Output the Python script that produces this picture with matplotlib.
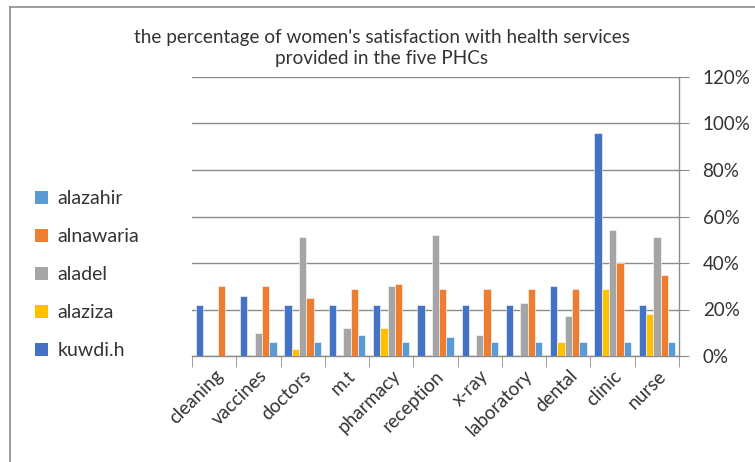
import numpy as np
import matplotlib
matplotlib.use("Agg")
import matplotlib.pyplot as plt
from matplotlib.lines import Line2D
from matplotlib.patches import Patch

plt.rcParams['font.family'] = ['Lato', 'DejaVu Sans']

services = ['cleaning', 'vaccines', 'doctors', 'm.t', 'pharmacy', 'reception',
            'x-ray', 'laboratory', 'dental', 'clinic', 'nurse']

# satisfaction (%) per PHC, one value per service
kuwdi_h = [22, 26, 22, 22, 22, 22, 22, 22, 30, 96, 22]
alaziza = [0, 0, 3, 0, 12, 0, 0, 0, 6, 29, 18]
aladel = [0, 10, 51, 12, 30, 52, 9, 23, 17, 54, 51]
alnawaria = [30, 30, 25, 29, 31, 29, 29, 29, 29, 40, 35]
alazahir = [0, 6, 6, 9, 6, 8, 6, 6, 6, 6, 6]

series = [('kuwdi.h', kuwdi_h, '#4472C4'),
          ('alaziza', alaziza, '#FFC000'),
          ('aladel', aladel, '#A5A5A5'),
          ('alnawaria', alnawaria, '#ED7D31'),
          ('alazahir', alazahir, '#5B9BD5')]

fig = plt.figure(figsize=(7.55, 4.62), dpi=100)
ax = fig.add_axes([192 / 755, 1 - 356 / 462, 487 / 755, 279 / 462])

x = np.arange(len(services))
w = 0.165
for i, (name, vals, col) in enumerate(series):
    ax.bar(x + (i - 2) * w, vals, width=w, color=col, edgecolor='white',
           linewidth=0.4, zorder=3)

ax.set_xlim(-0.5, len(services) - 0.5)
ax.set_ylim(0, 120)
ax.set_yticks(range(0, 121, 20))
ax.set_yticklabels([f'{v}%' for v in range(0, 121, 20)])
ax.yaxis.tick_right()
ax.grid(axis='y', color='#8c8c8c', linewidth=1.0, zorder=0)

ax.set_xticks(x)
ax.set_xticklabels(services, rotation=45, ha='right', rotation_mode='anchor')
ax.set_xticks(np.arange(-0.5, len(services)), minor=True)
ax.tick_params(axis='x', which='major', length=0, pad=8, labelsize=13.5,
               labelcolor='#333333')
ax.tick_params(axis='x', which='minor', length=8, color='#8c8c8c', direction='out')
ax.tick_params(axis='y', length=7, color='#8c8c8c', labelsize=13.5, pad=10,
               labelcolor='#333333')

for s in ['left', 'top']:
    ax.spines[s].set_visible(False)
for s in ['right', 'bottom']:
    ax.spines[s].set_color('#8c8c8c')
    ax.spines[s].set_linewidth(1.0)

fig.text(382 / 755, 1 - 48 / 462,
         "the percentage of women's satisfaction with health services\nprovided in the five PHCs",
         ha='center', va='center', fontsize=13.6, color='#333333', linespacing=1.25)

handles = [Patch(facecolor=col, label=name) for name, vals, col in series[::-1]]
fig.legend(handles=handles, loc='upper left', bbox_to_anchor=(17 / 755, 1 - 173 / 462),
           frameon=False, fontsize=14, handlelength=0.7, handleheight=0.7,
           handletextpad=0.5, labelspacing=1.08, labelcolor='#333333')

# outer chart border
fig.add_artist(Line2D([10 / 755, 10 / 755], [0, 1 - 7 / 462], color='#8c8c8c', lw=1.2))
fig.add_artist(Line2D([10 / 755, 1], [1 - 7 / 462, 1 - 7 / 462], color='#8c8c8c', lw=1.2))

fig.savefig('out.png', dpi=100)
